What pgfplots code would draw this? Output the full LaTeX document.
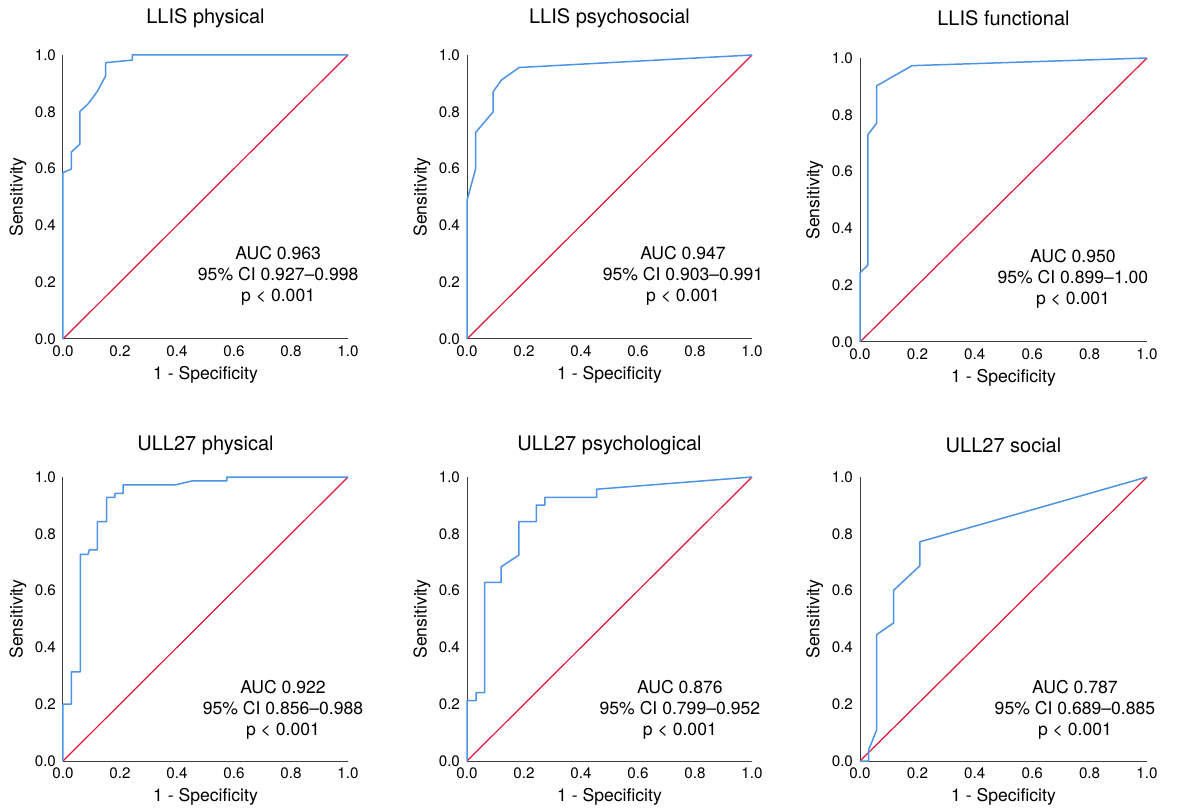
\documentclass[border=0pt]{standalone}
\usepackage{fontspec}
\setmainfont{TeX Gyre Heros}
\usepackage{pgfplots}
\pgfplotsset{compat=1.18}

\definecolor{rocblue}{RGB}{77,148,230}
\definecolor{rocred}{RGB}{225,20,55}
\definecolor{axgray}{RGB}{60,60,60}

% 1 px of the reference = 0.5pt
\pgfplotsset{
  roc/.style={
    scale only axis,
    width=142.5pt, height=142pt,
    xmin=0, xmax=1, ymin=0, ymax=1,
    enlargelimits=false, clip=false,
    axis x line*=bottom, axis y line*=left,
    axis line style={axgray, line width=0.5pt},
    xtick={0,0.2,0.4,0.6,0.8,1},
    ytick={0,0.2,0.4,0.6,0.8,1},
    major tick length=0pt,
    /pgf/number format/assume math mode=true,
    /pgf/number format/.cd, fixed, fixed zerofill, precision=1, /pgfplots/.cd,
    tick label style={font=\fontsize{7.6}{9}\selectfont},
    xlabel={1 - Specificity},
    ylabel={Sensitivity},
    label style={font=\fontsize{8.8}{10}\selectfont},
    xlabel style={at={(axis description cs:0.5,-0.127)}, anchor=center},
    ylabel style={at={(axis description cs:-0.158,0.5)}, anchor=center},
    every axis title/.style={at={(axis description cs:0.5,1.13)}, anchor=center,
      font=\fontsize{10}{12}\selectfont},
  },
  curve/.style={rocblue, line width=0.75pt, line join=round},
  diag/.style={rocred, line width=0.6pt},
}
\newcommand{\annot}[5]{\node[align=center, font=\fontsize{8.8}{10.5}\selectfont] at (axis cs:#1,#2) {AUC #3\\95\% CI #4\\p < #5};}

\begin{document}
\begin{tikzpicture}
\useasboundingbox (0,0) rectangle (589pt,-406pt);

% LLIS physical
\begin{axis}[roc, at={(31.5pt,-169.5pt)}, anchor=south west, title={LLIS physical}]
\addplot[diag] coordinates {(0,0) (1,1)};
\addplot[curve] coordinates {
  (0,0) (0,0.586) (0.029,0.598) (0.029,0.658) (0.059,0.686) (0.059,0.801)
  (0.088,0.828) (0.120,0.871) (0.150,0.927) (0.150,0.973) (0.243,0.982)
  (0.243,1) (1,1)
};
\annot{0.755}{0.222}{0.963}{0.927–0.998}{0.001}
\end{axis}

% LLIS psychosocial
\begin{axis}[roc, at={(233.5pt,-169.5pt)}, anchor=south west, title={LLIS psychosocial}]
\addplot[diag] coordinates {(0,0) (1,1)};
\addplot[curve] coordinates {
  (0,0) (0,0.488) (0.030,0.598) (0.030,0.727) (0.092,0.800) (0.092,0.871)
  (0.121,0.912) (0.183,0.956) (1,1)
};
\annot{0.758}{0.222}{0.947}{0.903–0.991}{0.001}
\end{axis}

% LLIS functional
\begin{axis}[roc, width=143.5pt, at={(430pt,-171pt)}, anchor=south west, title={LLIS functional},
  title style={at={(axis description cs:0.5,1.14)}}]
\addplot[diag] coordinates {(0,0) (1,1)};
\addplot[curve] coordinates {
  (0,0) (0,0.244) (0.027,0.270) (0.027,0.729) (0.058,0.771) (0.058,0.902)
  (0.181,0.973) (1,1)
};
\annot{0.742}{0.222}{0.950}{0.899–1.00}{0.001}
\end{axis}

% ULL27 physical
\begin{axis}[roc, at={(31.5pt,-380.5pt)}, anchor=south west, title={ULL27 physical},
  title style={at={(axis description cs:0.5,1.113)}}]
\addplot[diag] coordinates {(0,0) (1,1)};
\addplot[curve] coordinates {
  (0,0) (0,0.200) (0.029,0.200) (0.029,0.314) (0.061,0.314) (0.061,0.728)
  (0.088,0.728) (0.092,0.743) (0.121,0.743) (0.121,0.843) (0.153,0.843)
  (0.153,0.928) (0.182,0.928) (0.182,0.942) (0.211,0.942) (0.211,0.972)
  (0.393,0.972) (0.452,0.986) (0.575,0.986) (0.575,1) (1,1)
};
\annot{0.772}{0.180}{0.922}{0.856–0.988}{0.001}
\end{axis}

% ULL27 psychological
\begin{axis}[roc, at={(233.5pt,-380.5pt)}, anchor=south west, title={ULL27 psychological},
  title style={at={(axis description cs:0.5,1.113)}}]
\addplot[diag] coordinates {(0,0) (1,1)};
\addplot[curve] coordinates {
  (0,0) (0,0.213) (0.032,0.213) (0.032,0.241) (0.062,0.241) (0.062,0.629)
  (0.120,0.629) (0.120,0.684) (0.182,0.725) (0.182,0.843) (0.243,0.843)
  (0.243,0.901) (0.273,0.901) (0.273,0.928) (0.455,0.928) (0.455,0.957) (1,1)
};
\annot{0.747}{0.180}{0.876}{0.799–0.952}{0.001}
\end{axis}

% ULL27 social
\begin{axis}[roc, width=143.5pt, at={(430pt,-380.5pt)}, anchor=south west, title={ULL27 social},
  title style={at={(axis description cs:0.5,1.113)}}]
\addplot[diag] coordinates {(0,0) (1,1)};
\addplot[curve] coordinates {
  (0,0) (0.030,0) (0.030,0.039) (0.058,0.109) (0.058,0.445) (0.117,0.486)
  (0.117,0.601) (0.209,0.688) (0.209,0.772) (1,1)
};
\annot{0.749}{0.180}{0.787}{0.689–0.885}{0.001}
\end{axis}
\end{tikzpicture}
\end{document}
